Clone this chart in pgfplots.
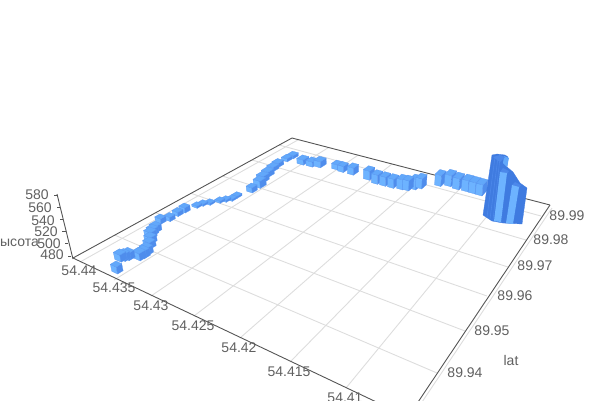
\documentclass[border=0pt]{standalone}
\usepackage{pgfplots}
\pgfplotsset{compat=1.18}
\usepackage{fontspec}
\setmainfont{Liberation Sans}
\definecolor{barL}{HTML}{6DB3FF}
\definecolor{barD}{HTML}{4F8DEC}
\definecolor{barE}{HTML}{5A98F2}
\definecolor{barT}{HTML}{62A8FA}
\definecolor{colD}{HTML}{3F7BE0}
\definecolor{colE}{HTML}{4C88EA}
\definecolor{gridc}{HTML}{DDDDDD}
\definecolor{axc}{HTML}{555555}
\definecolor{txt}{HTML}{606060}
\newcommand\bbar[4]{%
\pgfmathsetmacro\cx{#1}\pgfmathsetmacro\cy{#2+#4/2}%
\pgfmathsetmacro\un{veclen(\cx+746,\cy+132)}%
\pgfmathsetmacro\ux{#3*(\cx+746)/\un}\pgfmathsetmacro\uy{#3*(\cy+132)/\un}%
\pgfmathsetmacro\vn{veclen(764-\cx,\cy+121)}%
\pgfmathsetmacro\vx{#3*(764-\cx)/\vn}\pgfmathsetmacro\vy{#3*(-121-\cy)/\vn}%
\pgfmathsetmacro\t{#4/(1409-\cy)}%
\pgfmathsetmacro\Fx{\cx+\ux-\vx}\pgfmathsetmacro\Fy{\cy+\uy-\vy}%
\pgfmathsetmacro\Lx{\cx-\ux-\vx}\pgfmathsetmacro\Ly{\cy-\uy-\vy}%
\pgfmathsetmacro\Rx{\cx+\ux+\vx}\pgfmathsetmacro\Ry{\cy+\uy+\vy}%
\pgfmathsetmacro\Bx{\cx-\ux+\vx}\pgfmathsetmacro\By{\cy-\uy+\vy}%
\pgfmathsetmacro\Fxt{\Fx+\t*(\Fx-356)}\pgfmathsetmacro\Fyt{\Fy+\t*(\Fy-1409)}%
\pgfmathsetmacro\Lxt{\Lx+\t*(\Lx-356)}\pgfmathsetmacro\Lyt{\Ly+\t*(\Ly-1409)}%
\pgfmathsetmacro\Rxt{\Rx+\t*(\Rx-356)}\pgfmathsetmacro\Ryt{\Ry+\t*(\Ry-1409)}%
\pgfmathsetmacro\Bxt{\Bx+\t*(\Bx-356)}\pgfmathsetmacro\Byt{\By+\t*(\By-1409)}%
\addplot[fill=barL,draw=barE,line width=0.25pt] coordinates {(\Lx,\Ly)(\Fx,\Fy)(\Fxt,\Fyt)(\Lxt,\Lyt)} --cycle;
\addplot[fill=barD,draw=barE,line width=0.25pt] coordinates {(\Fx,\Fy)(\Rx,\Ry)(\Rxt,\Ryt)(\Fxt,\Fyt)} --cycle;
\addplot[fill=barT,draw=barE,line width=0.25pt] coordinates {(\Lxt,\Lyt)(\Fxt,\Fyt)(\Rxt,\Ryt)(\Bxt,\Byt)} --cycle;
}
\newcommand\gline[4]{\addplot[gridc,line width=0.9pt] coordinates {(#1,#2)(#3,#4)};}
\newcommand\eline[4]{\addplot[axc,line width=0.9pt] coordinates {(#1,#2)(#3,#4)};}
\begin{document}
\begin{tikzpicture}[x=1pt,y=1pt]
\useasboundingbox (0,0) rectangle (600pt,400pt);
\clip (0,0) rectangle (600pt,400pt);
\begin{axis}[at={(0,0)},anchor=south west,scale only axis,width=600pt,height=400pt,
  xmin=0,xmax=600,ymin=0,ymax=400,y dir=reverse,hide axis,clip=false]
% lat grid lines
\gline{437}{373}{114.5}{235}
\gline{465}{331}{155.6}{212.7}
\gline{487}{296}{191}{193.3}
\gline{508}{267}{222.3}{176}
\gline{526}{240}{252}{160}
\gline{541}{216}{279}{145}
% lon grid lines
\gline{346}{388}{505.6}{193.6}
\gline{290}{362}{465.5}{183.1}
\gline{240}{338}{427.9}{173.4}
\gline{194}{316}{392.1}{164}
\gline{151}{296}{358}{155.2}
\gline{114}{280}{328.6}{147.5}
\gline{80}{262}{298.4}{139.7}
\gline{412}{417}{552}{208}
% edges
\eline{73}{258}{292}{138}
\eline{292}{138}{550}{205}
\eline{73}{258}{408}{417}
\eline{550}{205}{408}{417}
\eline{73}{259}{57}{194}
% z ticks
\eline{57}{195}{53.5}{195}
\eline{60}{207}{56.5}{207}
\eline{63}{219}{59.5}{219}
\eline{65.5}{231}{62}{231}
\eline{68}{243}{64.5}{243}
\eline{71}{256}{67.5}{256}
% bars
\bbar{293}{155}{3}{3}
\bbar{287}{158}{3}{3}
\bbar{303}{160}{3.3}{5}
\bbar{312}{162}{3.3}{5}
\bbar{320}{162}{3.5}{6}
\bbar{278}{163}{3.2}{4}
\bbar{337}{165}{3}{5}
\bbar{343}{167}{3}{6}
\bbar{273}{167}{3.3}{4}
\bbar{353}{169}{3.2}{7}
\bbar{268}{172}{3.5}{5}
\bbar{369}{173}{3.2}{9}
\bbar{377}{177}{3.2}{9}
\bbar{263}{177}{3.5}{6}
\bbar{385}{179}{3.2}{9}
\bbar{393}{181}{3.2}{9}
\bbar{440}{178}{3.2}{11}
\bbar{450}{178}{3.4}{11}
\bbar{415}{182}{3.2}{10}
\bbar{421}{181}{3.2}{10}
\bbar{402}{182}{3.2}{10}
\bbar{408}{183}{3.2}{10}
\bbar{458}{181}{3.5}{11}
\bbar{467}{183}{3.5}{11}
\bbar{474}{185}{3.5}{11}
\bbar{481}{187}{3.5}{11}
\bbar{260}{182}{3.5}{7}
\bbar{252}{188}{3}{5}
\bbar{237}{195}{2.8}{2}
\bbar{232}{198}{2.8}{2}
\bbar{226}{199}{2.8}{2}
\bbar{220}{200}{2.8}{2}
\bbar{210}{202}{2.8}{2}
\bbar{203}{203}{2.8}{2}
\bbar{197}{205}{2.8}{2}
\bbar{185}{208}{3}{5}
\bbar{178}{212}{3}{4}
\bbar{170}{217}{3}{4}
\bbar{161}{219}{3}{5}
\bbar{156}{227}{3.3}{6}
\bbar{153}{230}{3.3}{6}
\bbar{151}{233}{3.5}{6}
\bbar{151}{238}{3.5}{6}
\bbar{150}{243}{3.5}{6}
\bbar{147}{249}{3.7}{7}
\bbar{144}{252}{3.7}{7}
\bbar{140}{254}{3.7}{7}
\bbar{129}{254}{3.5}{7}
\bbar{125}{255}{3.3}{7}
\bbar{121}{255.5}{3.5}{7}
\bbar{117.5}{267.5}{3.2}{7}
% tall column: its visible faces
\addplot[fill=colD,draw=colD,line width=0.3pt] coordinates {(492,155)(497,154)(505,155)(508,157)(507,167)(513,172)(520,183)(527,188)(522,224)(503,223)(492,221)(483,215)} --cycle;
\addplot[fill=barT,draw=none] coordinates {(504,156)(509,158)(507,167)(503,163)} --cycle;
\addplot[colE,line width=0.6pt] coordinates {(487,217)(495,157)};
\addplot[colE,line width=0.6pt] coordinates {(490,219)(498,157)};
\addplot[colE,line width=0.6pt] coordinates {(493,220)(500,158)};
\addplot[fill=colE,draw=none] coordinates {(493,157)(500,155)(505,157)(500,162)} --cycle;
\addplot[fill=colE,draw=none] coordinates {(500,172)(503,168)(509,171)(507,174)} --cycle;
\addplot[fill=colE,draw=none] coordinates {(512,185)(515,182)(521,185)(519,188)} --cycle;
\addplot[fill=barL,draw=none] coordinates {(500,172)(507,173)(501,222)(494,221)} --cycle;
\addplot[fill=barL,draw=none] coordinates {(512,185)(519,187)(513,224)(506,223)} --cycle;
% labels
\node[txt,font=\fontsize{14}{14}\selectfont,anchor=center] at (axis cs:37,195) {580};
\node[txt,font=\fontsize{14}{14}\selectfont,anchor=center] at (axis cs:40,208) {560};
\node[txt,font=\fontsize{14}{14}\selectfont,anchor=center] at (axis cs:43,221) {540};
\node[txt,font=\fontsize{14}{14}\selectfont,anchor=center] at (axis cs:46,232) {520};
\node[txt,font=\fontsize{14}{14}\selectfont,anchor=center] at (axis cs:49,244) {500};
\node[txt,font=\fontsize{14}{14}\selectfont,anchor=center] at (axis cs:52,255) {480};
\node[txt,font=\fontsize{14}{14}\selectfont,anchor=east,inner sep=0pt] at (axis cs:39,243) {высота};
\node[txt,font=\fontsize{14}{14}\selectfont] at (axis cs:79,271) {54.44};
\node[txt,font=\fontsize{14}{14}\selectfont] at (axis cs:114,288) {54.435};
\node[txt,font=\fontsize{14}{14}\selectfont] at (axis cs:151,306) {54.43};
\node[txt,font=\fontsize{14}{14}\selectfont] at (axis cs:193,326) {54.425};
\node[txt,font=\fontsize{14}{14}\selectfont] at (axis cs:239,348) {54.42};
\node[txt,font=\fontsize{14}{14}\selectfont] at (axis cs:289,372) {54.415};
\node[txt,font=\fontsize{14}{14}\selectfont] at (axis cs:345,398) {54.41};
\node[txt,font=\fontsize{14}{14}\selectfont] at (axis cs:567,216) {89.99};
\node[txt,font=\fontsize{14}{14}\selectfont] at (axis cs:551,240) {89.98};
\node[txt,font=\fontsize{14}{14}\selectfont] at (axis cs:535,266) {89.97};
\node[txt,font=\fontsize{14}{14}\selectfont] at (axis cs:515,296) {89.96};
\node[txt,font=\fontsize{14}{14}\selectfont] at (axis cs:492,331) {89.95};
\node[txt,font=\fontsize{14}{14}\selectfont] at (axis cs:465,373) {89.94};
\node[txt,font=\fontsize{14}{14}\selectfont] at (axis cs:511,360) {lat};
\end{axis}
\end{tikzpicture}
\end{document}
